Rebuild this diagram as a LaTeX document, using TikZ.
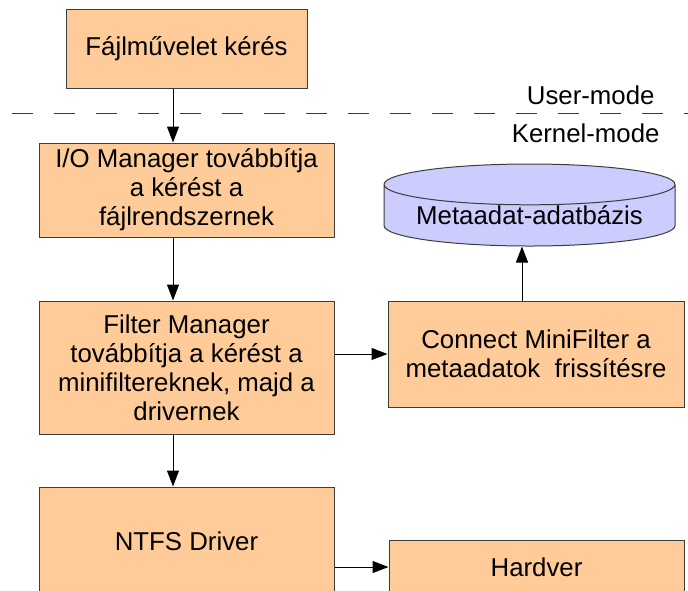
\documentclass[tikz,border=0pt]{standalone}
\usepackage{fontspec}
\setmainfont{Liberation Sans}
\usetikzlibrary{arrows.meta, positioning, shapes.geometric}
\definecolor{barack}{RGB}{255,204,153}
\definecolor{levendula}{RGB}{204,204,255}
\definecolor{keret}{RGB}{60,60,60}
\tikzset{%
    >={Triangle[width=6pt,length=8pt]},
    doboz/.style     = {rectangle, draw=keret, fill=barack, line width=0.5pt,
                        inner sep=0pt, align=center,
                        font=\fontsize{12.9}{14.5}\selectfont},
    adatbazis/.style = {cylinder, shape border rotate=90, aspect=0.18,
                        draw=keret, fill=levendula, line width=0.5pt,
                        minimum width=145.5pt, minimum height=41pt, inner sep=0pt,
                        font=\fontsize{12.9}{14.5}\selectfont},
    felirat/.style   = {anchor=east, inner sep=0pt,
                        font=\fontsize{12.9}{14.5}\selectfont},
}

\begin{document}
\begin{tikzpicture}[line width=0.5pt]
    \useasboundingbox (0,0) rectangle (344pt,-295pt);
    \clip (0,0) rectangle (344pt,-295pt);

    \node (fajl)    [doboz, minimum width=120.5pt, minimum height=39.5pt]
                    at (93.25pt,-24.25pt) {Fájlművelet kérés};
    \node (io)      [doboz, minimum width=147.5pt, minimum height=47pt, below=27pt of fajl]
                    {I/O Manager továbbítja\\a kérést a\\fájlrendszernek};
    \node (filter)  [doboz, minimum width=147.5pt, minimum height=66.5pt, below=31.5pt of io]
                    {Filter Manager\\továbbítja a kérést a\\minifiltereknek, majd a\\drivernek};
    \node (ntfs)    [doboz, minimum width=147.5pt, minimum height=54pt, below=26pt of filter]
                    {NTFS Driver};
    \node (connect) [doboz, minimum width=148pt, minimum height=53pt,
                     right=26.5pt of filter.north east, anchor=north west]
                    {Connect MiniFilter a\\metaadatok\ \ frissítésre};
    \node (meta)    [adatbazis, above=27pt of connect, xshift=-3.25pt]
                    {Metaadat-adatbázis};
    \node (hardver) [doboz, minimum width=147.5pt, minimum height=27pt,
                     right=27pt of ntfs.north east, anchor=north west, yshift=-26.5pt]
                    {Hardver};

    \node (user)   [felirat] at (327.5pt,-47.5pt) {User-mode};
    \node (kernel) [felirat] at (330pt,-66.5pt)   {Kernel-mode};
    \draw[keret, dash pattern=on 10.5pt off 10.5pt] (6pt,-56.5pt) -- (344pt,-56.5pt);

    \draw[->] ([xshift=-6.75pt]fajl.south)   -- ([xshift=-6.75pt]io.north);
    \draw[->] ([xshift=-6.75pt]io.south)     -- ([xshift=-6.75pt]filter.north);
    \draw[->] ([xshift=-6.75pt]filter.south) -- ([xshift=-6.75pt]ntfs.north);
    \draw[->] (connect.west -| filter.east)  -- (connect.west);
    \draw[->] (hardver.west -| ntfs.east)    -- (hardver.west);
    \draw[->] ([xshift=-7pt]connect.north)   -- ([xshift=-7pt]connect.north |- meta.south);
\end{tikzpicture}
\end{document}
